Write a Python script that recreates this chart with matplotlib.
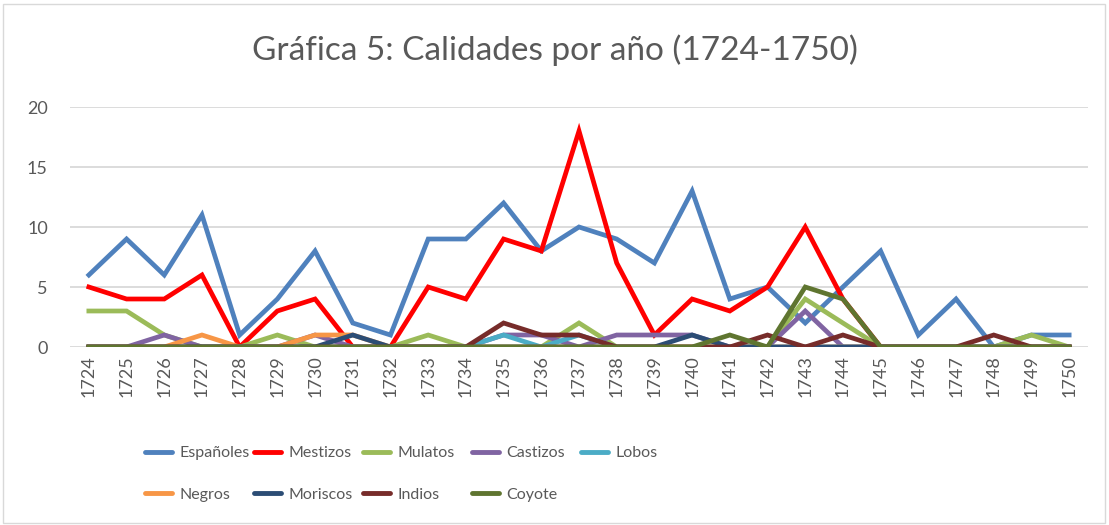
import numpy as np
import matplotlib.pyplot as plt
from matplotlib.patches import Rectangle
from matplotlib.lines import Line2D

plt.rcParams['font.family'] = ['Lato', 'DejaVu Sans']

# Datos
anios = [str(a) for a in range(1724, 1751)]

espanoles = [6, 9, 6, 11, 1, 4, 8, 2, 1, 9, 9, 12, 8, 10, 9, 7, 13, 4, 5, 2, 5, 8, 1, 4, 0, 1, 1]
mestizos = [5, 4, 4, 6, 0, 3, 4, 0, 0, 5, 4, 9, 8, 18, 7, 1, 4, 3, 5, 10, 4, 0, 0, 0, 0, 0, 0]
mulatos = [3, 3, 1, 0, 0, 1, 0, 0, 0, 1, 0, 0, 0, 2, 0, 0, 0, 0, 0, 4, 2, 0, 0, 0, 0, 1, 0]
castizos = [0, 0, 1, 0, 0, 0, 1, 0, 0, 0, 0, 1, 1, 0, 1, 1, 1, 0, 0, 3, 0, 0, 0, 0, 0, 0, 0]
lobos = [0, 0, 0, 0, 0, 0, 0, 0, 0, 0, 0, 1, 0, 1, 0, 0, 0, 0, 0, 0, 0, 0, 0, 0, 0, 0, 0]
negros = [0, 0, 0, 1, 0, 0, 1, 1, 0, 0, 0, 0, 0, 0, 0, 0, 0, 0, 0, 0, 0, 0, 0, 0, 0, 0, 0]
moriscos = [0, 0, 0, 0, 0, 0, 0, 1, 0, 0, 0, 0, 0, 0, 0, 0, 1, 0, 0, 0, 0, 0, 0, 0, 0, 0, 0]
indios = [0, 0, 0, 0, 0, 0, 0, 0, 0, 0, 0, 2, 1, 1, 0, 0, 0, 0, 1, 0, 1, 0, 0, 0, 1, 0, 0]
coyote = [0, 0, 0, 0, 0, 0, 0, 0, 0, 0, 0, 0, 0, 0, 0, 0, 0, 1, 0, 5, 4, 0, 0, 0, 0, 0, 0]

series = [
    ('Españoles', espanoles, '#4F81BD'),
    ('Mestizos', mestizos, '#FF0000'),
    ('Mulatos', mulatos, '#9BBB59'),
    ('Castizos', castizos, '#8064A2'),
    ('Lobos', lobos, '#4BACC6'),
    ('Negros', negros, '#F79646'),
    ('Moriscos', moriscos, '#2C4D75'),
    ('Indios', indios, '#772C2A'),
    ('Coyote', coyote, '#5F7530'),
]

gris = '#595959'

fig = plt.figure(figsize=(11.09, 5.25), dpi=100)
ax = fig.add_axes([70 / 1109, 1 - 347 / 525, (1088 - 70) / 1109, 240 / 525])

x = np.arange(len(anios))
for nombre, valores, color in series:
    ax.plot(x, valores, color=color, lw=3.4, label=nombre, solid_joinstyle='miter')

ax.set_xlim(-0.5, len(anios) - 0.5)
ax.set_ylim(0, 20)
ax.set_yticks([0, 5, 10, 15, 20])
ax.set_xticks(x)
ax.set_xticklabels(anios, rotation=90)
ax.tick_params(axis='both', length=0, labelsize=13, colors=gris)
ax.tick_params(axis='y', pad=16)
ax.tick_params(axis='x', pad=6)
ax.grid(axis='y', color='#D9D9D9', lw=1.3)
ax.set_axisbelow(True)
for s in ax.spines.values():
    s.set_visible(False)

fig.text(0.5, 1 - 50 / 525, 'Gráfica 5: Calidades por año (1724-1750)',
         ha='center', va='center', fontsize=24, color=gris)

# Leyenda en dos filas, columnas a ancho fijo
handles = {n: Line2D([], [], color=c, lw=3.5, solid_capstyle='round') for n, _, c in series}
columnas = [['Españoles', 'Negros'], ['Mestizos', 'Moriscos'], ['Mulatos', 'Indios'],
            ['Castizos', 'Coyote'], ['Lobos']]
for i, col in enumerate(columnas):
    leg = fig.legend([handles[n] for n in col], col, loc='upper left',
                     bbox_to_anchor=((145 + i * 109) / 1109, 1 - 446 / 525),
                     frameon=False, fontsize=11.5, handlelength=1.7, handletextpad=0.45,
                     labelspacing=1.7, borderaxespad=0, borderpad=0)
    for t in leg.get_texts():
        t.set_color(gris)

fig.patches.append(Rectangle((3 / 1109, 2 / 525), 1102 / 1109, 519 / 525,
                             transform=fig.transFigure, fill=False,
                             edgecolor='#D9D9D9', lw=1))

fig.savefig('out.png', dpi=100)
